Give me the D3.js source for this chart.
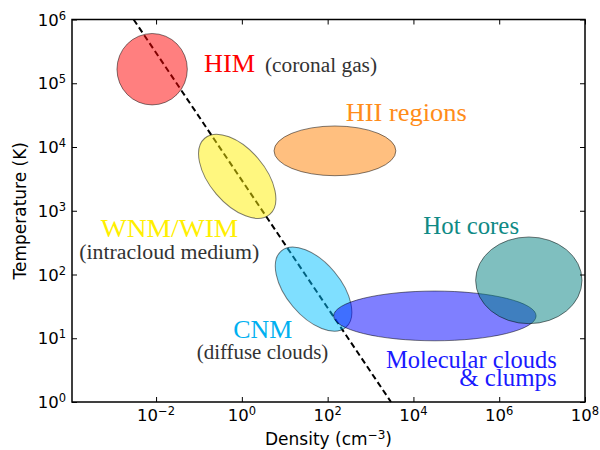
<!DOCTYPE html>
<html><head><meta charset="utf-8">
<script src="https://cdn.jsdelivr.net/npm/d3@7"></script>
<style>body{margin:0;background:#fff}</style>
</head><body><svg id="c" width="600" height="450"></svg>
<script>
// ---- data ----
const phases = ["HIM", "HII", "WNM/WIM", "CNM", "Molecular", "Hot cores"];
const centerDensity = [8.1e-3, 148, 0.78, 47, 3.16e4, 4.9e6];     // cm^-3
const centerTemp = [1.66e5, 8.7e3, 3.47e3, 59, 22.4, 81];         // K
const halfSpanDensity = [0.82, 1.42, 0.64, 0.63, 2.36, 1.24];      // decades
const halfSpanTemp = [0.56, 0.39, 0.785, 0.785, 0.39, 0.68];       // decades
const tiltDeg = [0, 0, -40.5, -40, 0, 0];
const isobarDensity = [3e-3, 3e3];
const isobarTemp = [1e6, 1];
const xTickExp = [-2, 0, 2, 4, 6, 8];
const yTickExp = [0, 1, 2, 3, 4, 5, 6];
const labelTexts = ["HIM", "(coronal gas)", "HII regions", "WNM/WIM", "(intracloud medium)",
  "CNM", "(diffuse clouds)", "Hot cores", "Molecular clouds", "& clumps"];

// ---- styles / layout ----
const phaseColors = ["#ff0000", "#ff8000", "#ffef00", "#00bfff", "#0000ff", "#008080"];
const L = 72, R = 585, T = 19.5, B = 402;
const svg = d3.select("#c");
const x = d3.scaleLog().domain([Math.pow(10, -3.96), 1e8]).range([L, R]);
const y = d3.scaleLog().domain([1, 1e6]).range([B, T]);
const pxDecX = (R - L) / Math.log10(x.domain()[1] / x.domain()[0]);
const pxDecY = (B - T) / 6;

// isobar
svg.append("path")
  .attr("d", d3.line().x(d => x(d[0])).y(d => y(d[1]))(isobarDensity.map((n, i) => [n, isobarTemp[i]])))
  .attr("stroke", "#000").attr("stroke-width", 2).attr("stroke-dasharray", "6,3.5").attr("fill", "none");

// ellipses
phases.forEach((p, i) => {
  svg.append("ellipse")
    .attr("transform", `translate(${x(centerDensity[i])},${y(centerTemp[i])}) rotate(${tiltDeg[i]})`)
    .attr("rx", halfSpanDensity[i] * pxDecX)
    .attr("ry", halfSpanTemp[i] * pxDecY)
    .attr("fill", phaseColors[i]).attr("fill-opacity", 0.5)
    .attr("stroke", "#000").attr("stroke-opacity", 0.5).attr("stroke-width", 1);
});

// labels: [text indices, log n, log T, size, color, widths]
const serif = "'Liberation Serif', 'Times New Roman', serif";
const labelLayout = [
  [[0], -0.882, 5.181, 25, "#ff0000", [51]],
  [[1], 0.54, 5.181, 20, "#333333", [112]],
  [[2], 2.421, 4.408, 25, "#ff8c1a", [121]],
  [[3], -3.291, 2.593, 25, "#ffef00", [137.6]],
  [[4], -3.79, 2.238, 20, "#333333", [180]],
  [[5], -0.199, 0.999, 25, "#00b0f0", [59]],
  [[6], -1.053, 0.67, 20, "#333333", [131.6]],
  [[7], 4.231, 2.635, 25, "#0f8a85", [95.7]],
  [[8, 9], 3.361, 0.538, 25, "#1a1aff", [170.7, 97.4]]
];
labelLayout.forEach(([ks, ln, lt, fs, col, ws]) => {
  const x0 = x(Math.pow(10, ln));
  const t = svg.append("text")
    .attr("x", x0).attr("y", y(Math.pow(10, lt)))
    .attr("font-family", serif).attr("font-size", fs)
    .attr("fill", col);
  ks.forEach((k, j) => {
    const s = t.append("tspan").attr("textLength", ws[j]).attr("lengthAdjust", "spacingAndGlyphs").text(labelTexts[k]);
    if (j > 0) s.attr("x", x0 + ws[0] - ws[j]).attr("dy", 18.3);
  });
});

// axes (inward ticks on all sides)
const tick = 5;
const xv = xTickExp.map(e => Math.pow(10, e)), yv = yTickExp.map(e => Math.pow(10, e));
function styleAxis(g) { g.select(".domain").remove(); g.selectAll("line").attr("stroke", "#000").attr("stroke-width", 1); }
svg.append("g").attr("transform", `translate(0,${B})`).call(d3.axisBottom(x).tickValues(xv).tickSizeInner(-tick).tickSizeOuter(0).tickFormat("")).call(styleAxis);
svg.append("g").attr("transform", `translate(0,${T})`).call(d3.axisTop(x).tickValues(xv).tickSizeInner(-tick).tickSizeOuter(0).tickFormat("")).call(styleAxis);
svg.append("g").attr("transform", `translate(${L},0)`).call(d3.axisLeft(y).tickValues(yv).tickSizeInner(-tick).tickSizeOuter(0).tickFormat("")).call(styleAxis);
svg.append("g").attr("transform", `translate(${R},0)`).call(d3.axisRight(y).tickValues(yv).tickSizeInner(-tick).tickSizeOuter(0).tickFormat("")).call(styleAxis);
svg.append("rect").attr("x", L).attr("y", T).attr("width", R - L).attr("height", B - T)
  .attr("fill", "none").attr("stroke", "#000").attr("stroke-width", 1.5);

const tf = "'DejaVu Sans', sans-serif";
function expLabel(sel, e) {
  sel.append("tspan").text("10");
  sel.append("tspan").attr("dy", -6).attr("font-size", 11.5).text(e < 0 ? "\u2212" + (-e) : String(e));
}
xTickExp.forEach(e => {
  const t = svg.append("text").attr("x", x(Math.pow(10, e))).attr("y", B + 18.5)
    .attr("text-anchor", "middle").attr("font-family", tf).attr("font-size", 16.5).attr("fill", "#000");
  expLabel(t, e);
});
yTickExp.forEach(e => {
  const t = svg.append("text").attr("x", L - 6).attr("y", y(Math.pow(10, e)) + 6)
    .attr("text-anchor", "end").attr("font-family", tf).attr("font-size", 16.5).attr("fill", "#000");
  expLabel(t, e);
});

// axis titles
const xt = svg.append("text").attr("x", (L + R) / 2).attr("y", 445).attr("text-anchor", "middle")
  .attr("font-family", tf).attr("font-size", 17).attr("fill", "#000");
xt.append("tspan").text("Density (cm");
xt.append("tspan").attr("dy", -6).attr("font-size", 12).text("\u22123");
xt.append("tspan").attr("dy", 6).text(")");
svg.append("text").attr("transform", `translate(26,${(T + B) / 2}) rotate(-90)`).attr("text-anchor", "middle")
  .attr("font-family", tf).attr("font-size", 17).attr("fill", "#000").text("Temperature (K)");
</script></body></html>
